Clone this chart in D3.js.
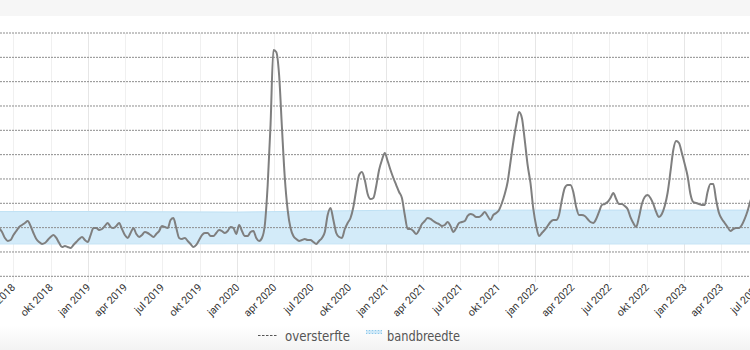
<!DOCTYPE html>
<html>
<head>
<meta charset="utf-8">
<script src="https://cdn.jsdelivr.net/npm/d3@7"></script>
<style>
  html, body { margin: 0; padding: 0; background: #fff; }
  svg { display: block; overflow: hidden; }
</style>
</head>
<body>
<svg id="chart" width="750" height="350"></svg>
<script>
// Weekly deaths, first week starting on this Monday
const weekStart = "2018-05-28";
const oversterfte = [
  2996, 2955, 2894, 2863, 2873, 2924, 2965, 3007, 3027, 3048,
  3068, 3017, 2945, 2883, 2852, 2832, 2842, 2873, 2904, 2924,
  2894, 2842, 2801, 2811, 2801, 2791, 2822, 2852, 2883, 2904,
  2873, 2852, 2924, 2996, 2996, 2976, 2986, 3017, 3048, 3007,
  2996, 3017, 3048, 2986, 2924, 2894, 2945, 2996, 2935, 2904,
  2924, 2955, 2945, 2924, 2904, 2935, 2965, 3017, 3007, 2996,
  3078, 3099, 2996, 2894, 2883, 2894, 2863, 2832, 2801, 2822,
  2873, 2924, 2945, 2945, 2914, 2914, 2945, 2976, 2965, 2945,
  2965, 3007, 2996, 2935, 3027, 2965, 2914, 2914, 2955, 2965,
  2894, 2863, 2894, 3027, 3438, 4055, 4825, 4805, 4568, 4024,
  3510, 3181, 2996, 2914, 2883, 2863, 2873, 2883, 2873, 2873,
  2852, 2832, 2863, 2894, 2955, 3130, 3202, 3078, 2945, 2904,
  2894, 2986, 3048, 3099, 3212, 3387, 3541, 3572, 3489, 3346,
  3294, 3305, 3428, 3592, 3695, 3767, 3685, 3592, 3510, 3438,
  3366, 3305, 3130, 2986, 2986, 2965, 2935, 2976, 3037, 3068,
  3099, 3089, 3068, 3048, 3037, 3017, 3027, 3058, 3017, 2955,
  2996, 3048, 3058, 3068, 3120, 3140, 3130, 3109, 3109, 3130,
  3161, 3120, 3078, 3130, 3150, 3181, 3253, 3346, 3469, 3674,
  3880, 4055, 4188, 4127, 3900, 3644, 3459, 3192, 3017, 2914,
  2945, 2976, 3017, 3058, 3078, 3078, 3130, 3284, 3407, 3438,
  3438, 3366, 3212, 3130, 3130, 3120, 3089, 3058, 3048, 3089,
  3161, 3233, 3243, 3263, 3305, 3356, 3294, 3243, 3243, 3222,
  3192, 3109, 3048, 3007, 3109, 3243, 3315, 3335, 3305, 3243,
  3161, 3109, 3140, 3222, 3356, 3572, 3798, 3890, 3870, 3767,
  3654, 3531, 3346, 3263, 3253, 3243, 3233, 3233, 3366, 3448,
  3448, 3284, 3150, 3089, 3048, 3007, 2965, 2986, 2996, 2996,
  3027, 3089, 3171, 3274, 3366
];

// Expected range (bandbreedte)
const bandDates = ["2018-05-28", "2019-01-01", "2020-01-01", "2021-01-01", "2022-01-01", "2023-01-01", "2023-06-26"];
const bandLow   = [2832, 2832, 2834, 2832, 2832, 2832, 2832];
const bandHigh  = [3165, 3166, 3160, 3178, 3180, 3180, 3180];

const yTicks = [2500, 2750, 3000, 3250, 3500, 3750, 4000, 4250, 4500, 4750, 5000];
const monthNames = ["jan", "apr", "jul", "okt"];
const legendLabels = ["oversterfte", "bandbreedte"];

const W = 750, H = 350;
const svg = d3.select("#chart");
const parse = d3.utcParse("%Y-%m-%d");

// page background strips
svg.append("rect").attr("x", 0).attr("y", 0).attr("width", W).attr("height", 16).attr("fill", "#f6f6f6");
const grad = svg.append("defs").append("linearGradient").attr("id", "bottomFade")
  .attr("x1", 0).attr("y1", 0).attr("x2", 0).attr("y2", 1);
grad.append("stop").attr("offset", "0%").attr("stop-color", "#ffffff");
grad.append("stop").attr("offset", "100%").attr("stop-color", "#f3f3f3");
svg.append("rect").attr("x", 0).attr("y", 326).attr("width", W).attr("height", 24).attr("fill", "url(#bottomFade)");

// legend swatch pattern for the band
const pat = svg.select("defs").append("pattern").attr("id", "bandDots")
  .attr("patternUnits", "userSpaceOnUse").attr("width", 3).attr("height", 3);
pat.append("rect").attr("width", 3).attr("height", 3).attr("fill", "#cfe8f7");
pat.append("rect").attr("width", 1).attr("height", 1).attr("fill", "#8cc8ea");

const x = d3.scaleUtc()
  .domain([parse("2018-05-30"), parse("2023-06-11")])
  .range([0, W]);
const y = d3.scaleLinear().domain([2500, 5000]).range([276.3, 33]);

const start = parse(weekStart);
const series = oversterfte.map((v, i) => ({ date: d3.utcDay.offset(start, 7 * i), value: v }));
const band = bandDates.map((d, i) => ({ date: parse(d), lo: bandLow[i], hi: bandHigh[i] }));

// quarterly ticks
const ticks = d3.utcMonth.every(3).range(parse("2018-04-01"), parse("2023-10-01"))
  .filter(d => x(d) > -40 && x(d) < W + 40);

// vertical grid
svg.append("g").selectAll("line").data(ticks).join("line")
  .attr("x1", d => Math.round(x(d)) + 0.5).attr("x2", d => Math.round(x(d)) + 0.5)
  .attr("y1", 33).attr("y2", 282)
  .attr("stroke", d => d.getUTCMonth() === 0 ? "#e6e6e6" : "#f0f0f0")
  .attr("stroke-width", 1);

// band
svg.append("path").datum(band)
  .attr("fill", "#d3ebf9")
  .attr("d", d3.area().x(d => x(d.date)).y0(d => y(d.lo)).y1(d => y(d.hi)));
svg.append("path").datum(band).attr("fill", "none").attr("stroke", "#bfe1f4").attr("stroke-width", 1)
  .attr("d", d3.line().x(d => x(d.date)).y(d => y(d.hi)));
svg.append("path").datum(band).attr("fill", "none").attr("stroke", "#c6e4f5").attr("stroke-width", 1)
  .attr("d", d3.line().x(d => x(d.date)).y(d => y(d.lo)));

// horizontal grid
svg.append("g").selectAll("line").data(yTicks).join("line")
  .attr("x1", 0).attr("x2", W)
  .attr("y1", d => y(d)).attr("y2", d => y(d))
  .attr("stroke", "#8c8c8c").attr("stroke-width", 1).attr("stroke-dasharray", "2,1");

// line
svg.append("path").datum(series)
  .attr("fill", "none")
  .attr("stroke", "#7f7f7f")
  .attr("stroke-width", 2)
  .attr("stroke-linejoin", "round")
  .attr("d", d3.line().x(d => x(d.date)).y(d => y(d.value)).curve(d3.curveMonotoneX));

// x labels
svg.append("g").selectAll("text").data(ticks).join("text")
  .attr("transform", d => `translate(${x(d) + 3},${288}) rotate(-45)`)
  .attr("text-anchor", "end")
  .attr("font-family", "Roboto, 'Noto Sans', sans-serif")
  .attr("font-size", 10.5)
  .attr("fill", "#333")
  .text(d => monthNames[Math.floor(d.getUTCMonth() / 3)] + " " + d.getUTCFullYear());

// legend
const lg = svg.append("g").attr("font-family", "'DejaVu Sans', sans-serif")
  .attr("font-stretch", "condensed").attr("font-size", 13.5).attr("fill", "#555");
lg.append("line").attr("x1", 258).attr("x2", 278).attr("y1", 335.5).attr("y2", 335.5)
  .attr("stroke", "#555").attr("stroke-width", 1.2).attr("stroke-dasharray", "2.5,1.5");
lg.append("text").attr("x", 285).attr("y", 341).attr("textLength", 65).attr("lengthAdjust", "spacingAndGlyphs").text(legendLabels[0]);
lg.append("rect").attr("x", 366).attr("y", 330).attr("width", 16).attr("height", 4).attr("fill", "url(#bandDots)");
lg.append("text").attr("x", 387).attr("y", 341).attr("textLength", 73).attr("lengthAdjust", "spacingAndGlyphs").text(legendLabels[1]);
</script>
</body>
</html>
